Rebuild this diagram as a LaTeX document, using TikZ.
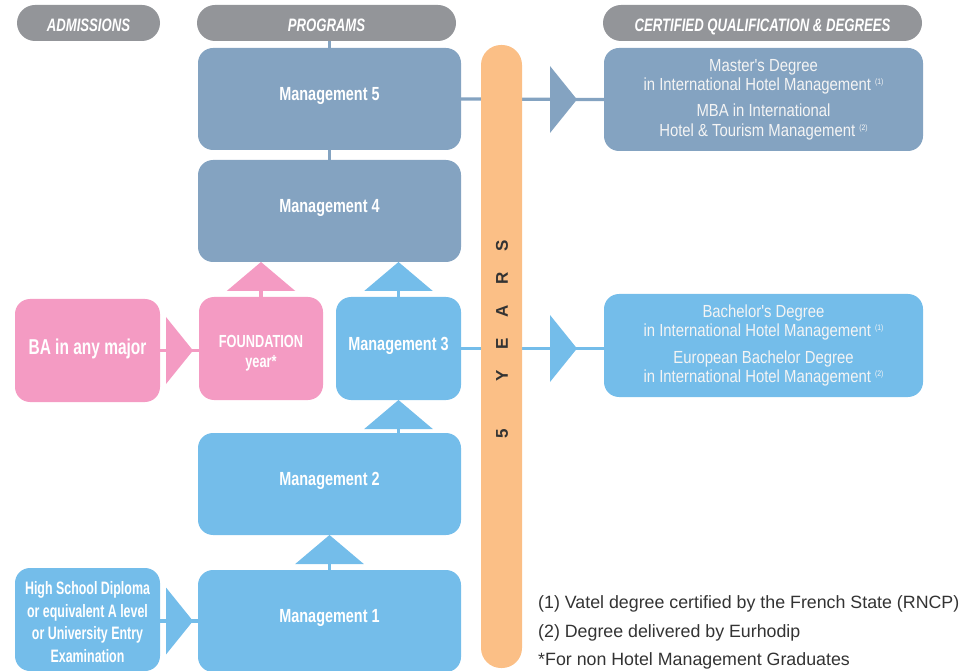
\documentclass[tikz,border=0pt]{standalone}
\usepackage{fontspec}
\setmainfont{Liberation Sans}
\newfontfamily\hdrfont[FakeStretch=0.73]{Liberation Sans}
\newfontfamily\boxfont[FakeStretch=0.76]{Liberation Sans}
\newfontfamily\bafont[FakeStretch=0.72]{Liberation Sans}
\newfontfamily\narrowfont[FakeStretch=0.69]{Liberation Sans}
\newfontfamily\degfont[FakeStretch=0.85]{Liberation Sans}
\newfontfamily\yearsfont[LetterSpace=122]{Liberation Sans}
\usetikzlibrary{arrows.meta,calc,backgrounds}
\definecolor{steel}{HTML}{84A3C1}
\definecolor{sky}{HTML}{74BDEA}
\definecolor{rose}{HTML}{F49BC3}
\definecolor{peach}{HTML}{FBBF86}
\definecolor{hdrgray}{HTML}{939599}
\definecolor{degtext}{HTML}{F4F4F4}
\definecolor{notegray}{HTML}{333333}
\newcommand\fnmark[1]{\raisebox{6pt}{\fontsize{8}{8}\selectfont #1}}
\tikzset{
  box/.style={anchor=north west, rounded corners=15pt, inner sep=0pt, outer sep=0pt, text=white},
  hdr/.style={box, fill=hdrgray, rounded corners=18pt, minimum height=36pt, text height=18pt, text depth=0pt,
    font=\hdrfont\fontsize{18}{20}\selectfont\bfseries\itshape},
  mgmt/.style={box, minimum width=263pt, minimum height=102pt, text depth=10pt,
    font=\boxfont\fontsize{19}{21}\selectfont\bfseries},
  deg/.style={box, align=center, minimum width=319pt, minimum height=103pt, text=degtext,
    font=\degfont\fontsize{17.5}{19.5}\selectfont},
  conn/.style={line width=3.2pt},
  tri/.style={-{Triangle[length=29pt,width=68pt]}},
  note/.style={anchor=base west, inner sep=0pt, text=notegray, font=\fontsize{17.8}{20}\selectfont}
}
\begin{document}
\begin{tikzpicture}[x=1pt,y=-1pt]
\useasboundingbox (0,0) rectangle (970,671);
% headers
\node[hdr, minimum width=143pt] (hadm) at (17,5) {ADMISSIONS};
\node[hdr, minimum width=259pt] (hprog) at (197,5) {PROGRAMS};
\node[hdr, minimum width=319pt] (hcert) at (603,5) {CERTIFIED QUALIFICATION \& DEGREES};
% program boxes
\node[mgmt, fill=steel] (m5) at (198,48) {Management 5};
\node[mgmt, fill=steel] (m4) at (198,160) {Management 4};
\node[mgmt, fill=sky, minimum width=125pt, minimum height=103pt] (m3) at (336,297) {Management 3};
\node[mgmt, fill=sky] (m2) at (198,433) {Management 2};
\node[mgmt, fill=sky] (m1) at (198,570) {Management 1};
\node[box, fill=rose, minimum width=124pt, minimum height=103pt, align=center,
  font=\hdrfont\fontsize{17.5}{20}\selectfont\bfseries] (found) at (199,297) {\rule{0pt}{21pt}FOUNDATION\\year*};
% admissions
\node[box, fill=rose, minimum width=145pt, minimum height=103pt, text depth=8pt,
  font=\bafont\fontsize{21.5}{23}\selectfont\bfseries] (ba) at (15,299) {BA in any major};
\node[box, fill=sky, minimum width=145pt, minimum height=103pt, align=center,
  font=\narrowfont\fontsize{18}{22.5}\selectfont\bfseries] (hs) at (15,568)
  {\rule{0pt}{18pt}High School Diploma\\or equivalent A level\\or University Entry\\Examination};
% degrees
\node[deg, fill=steel] (deg1) at (604,48) {Master's Degree\\in International Hotel Management \fnmark{(1)}\\[6.5pt]MBA in International\\Hotel \& Tourism Management \fnmark{(2)}};
\node[deg, fill=sky] (deg2) at (604,294) {Bachelor's Degree\\in International Hotel Management \fnmark{(1)}\\[7pt]European Bachelor Degree\\in International Hotel Management \fnmark{(2)}};
% years bar
\node[box, fill=peach, minimum width=41pt, minimum height=623pt, rounded corners=20pt] (bar) at (481,45) {};
\node[rotate=90, inner sep=0pt, text=notegray, font=\yearsfont\fontsize{17}{17}\selectfont\bfseries] (years) at (502,339.5) {5 \hspace{22pt}YEARS};
% connectors
\begin{scope}[on background layer]
\draw[conn, steel] (m5.north |- hprog.south) -- (m5.north);
\draw[conn, steel] (m5.south) -- (m4.north);
\draw[conn, steel] (m5.east) -- (deg1.west);
\draw[conn, sky] (m3.east) -- (m3.east -| deg2.west);
\draw[conn, rose] (ba.east) -- (ba.east -| found.west);
\draw[conn, sky] (m1.west -| hs.east) -- (m1.west);
\draw[conn, rose, tri] (found.north) -- (found.north |- m4.south);
\draw[conn, sky, tri] (m3.north) -- (m3.north |- m4.south);
\draw[conn, sky, tri] (m3.south |- m2.north) -- (m3.south);
\draw[conn, sky, tri] (m1.north) -- (m2.south);
\end{scope}
% horizontal arrowheads
\fill[steel] ($(deg1.west)+(-27,0)$) -- ++(-27,-33.5) -- ++(0,67) -- cycle;
\fill[sky] ($(m3.east -| deg2.west)+(-27,0)$) -- ++(-27,-33.5) -- ++(0,67) -- cycle;
\fill[rose] ($(ba.east -| found.west)+(-6,0)$) -- ++(-27,-33.5) -- ++(0,67) -- cycle;
\fill[sky] ($(m1.west)+(-5,0)$) -- ++(-27,-33.5) -- ++(0,67) -- cycle;
% notes
\node[note] (fn1) at (538,608) {(1) Vatel degree certified by the French State (RNCP)};
\node[note] (fn2) at (538,637) {(2) Degree delivered by Eurhodip};
\node[note] (fn3) at (538,665) {*For non Hotel Management Graduates};
\end{tikzpicture}
\end{document}
